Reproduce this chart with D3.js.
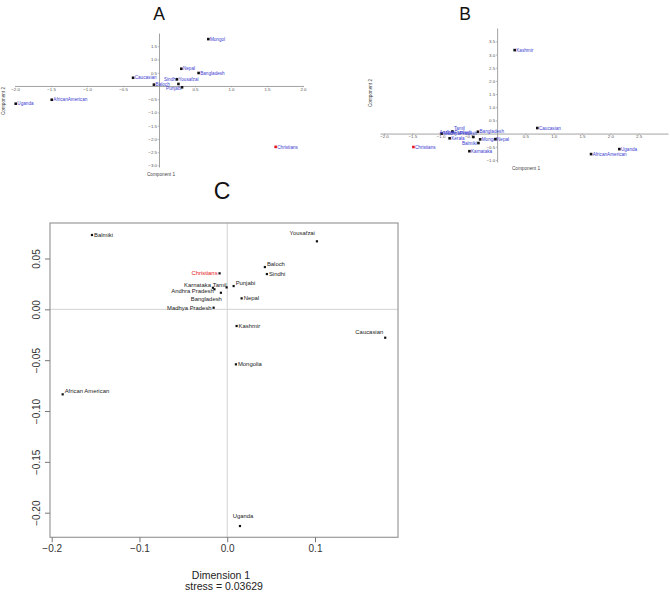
<!DOCTYPE html>
<html><head><meta charset="utf-8">
<script src="https://cdn.jsdelivr.net/npm/d3@7"></script>
<style>
html,body{margin:0;padding:0;background:#fff;}
svg{display:block;}
text{font-family:"Liberation Sans",Arial,Helvetica,sans-serif;}
</style></head>
<body>
<script>
// ---------- Panel A data (PCA) ----------
const namesA = ["Mongol","Nepal","Bangladesh","Caucasian","Sindhi","Yousafzai","Baloch","Punjabi","AfricanAmerican","Uganda","Christians"];
const compA1 = [0.685, 0.31, 0.55, -0.36, 0.27, 0.25, -0.07, 0.32, -1.49, -1.99, 1.62];
const compA2 = [1.77, 0.65, 0.49, 0.31, 0.075, 0.25, 0.05, -0.05, -0.52, -0.67, -2.30];
const placeA = ["r","r","r","r","tl","r","r","ld","r","r","r"];
const xTicksA = [-2,-1.5,-1,-0.5,0.5,1,1.5,2];
const yTicksA = [-3,-2.5,-2,-1.5,-1,-0.5,0.5,1,1.5];

// ---------- Panel B data (PCA) ----------
const namesB = ["Kashmir","Caucasian","Uganda","AfricanAmerican","Christians","Tamil","MadhyaPradesh","AndhraPradesh","Kerala","Bangladesh","Mongol","Nepal","Balmiki","Karnataka"];
const compB1 = [0.31, 0.71, 2.16, 1.66, -1.48, -0.79, -0.98, -0.42, -0.84, -0.34, -0.30, -0.03, -0.33, -0.49];
const compB2 = [3.17, 0.21, -0.59, -0.78, -0.51, 0.08, 0.0, -0.13, -0.18, 0.07, -0.22, -0.21, -0.36, -0.67];
const placeB = ["r","r","r","r","r","tr","r","tl","r","r","r","r","l","r"];
const xTicksB = [-2,-1.5,-1,-0.5,0.5,1,1.5,2,2.5];
const yTicksB = [-1,-0.5,0.5,1,1.5,2,2.5,3,3.5];

// ---------- Panel C data (MDS) ----------
const namesC = ["Balmiki","Christians","Karnataka","Tamil","Andhra Pradesh","Bangladesh","Madhya Pradesh","Punjabi","Baloch","Sindhi","Yousafzai","Nepal","Kashmir","Mongolia","Caucasian","African American","Uganda"];
const dimC1 = [-0.1541,-0.0087,-0.0163,-0.0007,-0.0146,-0.0072,-0.0155,0.0073,0.0429,0.0452,0.1022,0.0164,0.0107,0.0099,0.1800,-0.1875,0.0145];
const dimC2 = [0.0731,0.0354,0.0212,0.0216,0.0197,0.0163,0.0016,0.0229,0.0416,0.0347,0.0669,0.0108,-0.0164,-0.0541,-0.0279,-0.0836,-0.2131];
const placeC = ["r","l","lu","l0","ld","bl","l","tr","tr","r","tt","r","r","r","tl","tr","t"];
const xTicksC = [-0.2,-0.1,0.0,0.1];
const yTicksC = [-0.20,-0.15,-0.10,-0.05,0.00,0.05];
const stressC = "0.03629";

const svg = d3.select("body").append("svg").attr("width",670).attr("height",592);

function labelPos(p, x, y, fs, gap){
  const c = fs*0.35;
  switch(p){
    case "l": return {x:x-gap, y:y+c, a:"end"};
    case "lu": return {x:x-gap, y:y-fs*0.5+c, a:"end"};
    case "ld": return {x:x-gap*0.3, y:y+fs*0.3+c, a:"end"};
    case "l0": return {x:x, y:y-fs*0.45+c, a:"end"};
    case "tl": return {x:x-gap, y:y-fs*0.9+c, a:"end"};
    case "tt": return {x:x-gap, y:y-fs*1.5+c, a:"end"};
    case "tr": return {x:x+gap, y:y-fs*0.6+c, a:"start"};
    case "bl": return {x:x+1, y:y+fs*1.0+c, a:"end"};
    case "t": return {x:x+3, y:y-fs*1.7+c, a:"middle"};
    default: return {x:x+gap, y:y+c, a:"start"};
  }
}

function pcaPanel(title, titleX, names, c1, c2, place, xs, ys, xt, yt, t1, t2){
  const g = svg.append("g");
  g.append("text").attr("x",titleX).attr("y",19.5).attr("text-anchor","middle")
    .attr("font-size",17.5).attr("fill","#111").text(title);
  const xAxis = d3.axisBottom(xs).tickValues(xt).tickSize(1.2).tickPadding(0.6).tickSizeOuter(0).tickFormat(d3.format(".1f"));
  const yAxis = d3.axisLeft(ys).tickValues(yt).tickSize(1.2).tickPadding(0.8).tickSizeOuter(0).tickFormat(d3.format(".1f"));
  const gx = g.append("g").attr("transform",`translate(0,${ys(0)})`).call(xAxis);
  const gy = g.append("g").attr("transform",`translate(${xs(0)},0)`).call(yAxis);
  [gx,gy].forEach(a=>{
    a.selectAll("path").attr("stroke","#8a8a8a").attr("stroke-width",0.8);
    a.selectAll("line").attr("stroke","#8a8a8a").attr("stroke-width",0.6);
    a.selectAll("text").attr("font-size",4.4).attr("fill","#555")
      .attr("font-family","'Liberation Sans',Arial,sans-serif");
  });
  g.append("text").attr("x",t1[0]).attr("y",t1[1]).attr("text-anchor","middle")
    .attr("font-size",4.7).attr("fill","#444").text("Component 1");
  g.append("text").attr("transform",`translate(${t2[0]},${t2[1]}) rotate(-90)`).attr("text-anchor","middle")
    .attr("font-size",4.7).attr("fill","#444").text("Component 2");
  names.forEach((n,i)=>{
    const px = xs(c1[i]), py = ys(c2[i]);
    g.append("rect").attr("x",px-1.3).attr("y",py-1.3).attr("width",2.6).attr("height",2.6)
      .attr("fill", n==="Christians" ? "#e8141a" : "#111");
    const lp = labelPos(place[i], px, py, 4.65, 1.6);
    g.append("text").attr("x",lp.x).attr("y",lp.y).attr("text-anchor",lp.a)
      .attr("font-size",4.65).attr("fill","#3b3bd0").text(n);
  });
}

const xA = d3.scaleLinear().domain([-2,2]).range([15,303]);
const yA = d3.scaleLinear().domain([-3.06,2.0]).range([167,33]);
pcaPanel("A", 159, namesA, compA1, compA2, placeA, xA, yA, xTicksA, yTicksA, [161,175.5], [5,101]);

const xB = d3.scaleLinear().domain([-2.07,3.02]).range([380,668]);
const yB = d3.scaleLinear().domain([-1.08,4.01]).range([162,28]);
pcaPanel("B", 465, namesB, compB1, compB2, placeB, xB, yB, xTicksB, yTicksB, [526,169.5], [371.5,93]);

// ---------- Panel C ----------
const gC = svg.append("g");
const xC = d3.scaleLinear().domain([-0.2,0.1]).range([51.7,315]);
const yC = d3.scaleLinear().domain([-0.20,0.05]).range([512.7,258.5]);
const L=50, R=398, T=223, B=537.3;
gC.append("text").attr("x",222).attr("y",199).attr("text-anchor","middle")
  .attr("font-size",23).attr("font-family","'Liberation Serif','Times New Roman',serif").attr("fill","#111").text("C");
gC.append("line").attr("x1",xC(0)).attr("x2",xC(0)).attr("y1",T).attr("y2",B).attr("stroke","#d2d2d2").attr("stroke-width",1);
gC.append("line").attr("x1",L).attr("x2",R).attr("y1",yC(0)).attr("y2",yC(0)).attr("stroke","#d2d2d2").attr("stroke-width",1);
gC.append("rect").attr("x",L).attr("y",T).attr("width",R-L).attr("height",B-T)
  .attr("fill","none").attr("stroke","#999").attr("stroke-width",1.2);
const axC = gC.append("g").attr("transform",`translate(0,${B})`)
  .call(d3.axisBottom(xC).tickValues(xTicksC).tickSize(5).tickPadding(3).tickSizeOuter(0).tickFormat(d3.format(".1f")));
axC.select("path").remove();
axC.selectAll("line").attr("stroke","#777");
axC.selectAll("text").attr("font-size",10).attr("fill","#333").attr("font-family","'Liberation Sans',Arial,sans-serif");
const ayC = gC.append("g").attr("transform",`translate(${L},0)`)
  .call(d3.axisLeft(yC).tickValues(yTicksC).tickSize(5).tickPadding(3).tickSizeOuter(0).tickFormat(d3.format(".2f")));
ayC.select("path").remove();
ayC.selectAll("line").attr("stroke","#777");
ayC.selectAll("text").attr("font-size",10).attr("fill","#333").attr("font-family","'Liberation Sans',Arial,sans-serif")
  .attr("x",null).attr("dy",null).attr("text-anchor","middle")
  .attr("transform","translate(-10,0) rotate(-90)").attr("y",0);
gC.append("text").attr("x",221).attr("y",578.5).attr("text-anchor","middle")
  .attr("font-size",10.5).attr("fill","#222").text("Dimension 1");
gC.append("text").attr("x",224).attr("y",590).attr("text-anchor","middle")
  .attr("font-size",10.5).attr("fill","#222").text("stress = " + stressC);
namesC.forEach((n,i)=>{
  const px = xC(dimC1[i]), py = yC(dimC2[i]);
  gC.append("rect").attr("x",px-1.1).attr("y",py-1.1).attr("width",2.2).attr("height",2.2).attr("fill","#111");
  const lp = labelPos(placeC[i], px, py, 5.9, 2);
  gC.append("text").attr("x",lp.x).attr("y",lp.y).attr("text-anchor",lp.a)
    .attr("font-size",5.9).attr("fill", n==="Christians" ? "#e8141a" : "#222").text(n);
});
</script>
</body></html>
